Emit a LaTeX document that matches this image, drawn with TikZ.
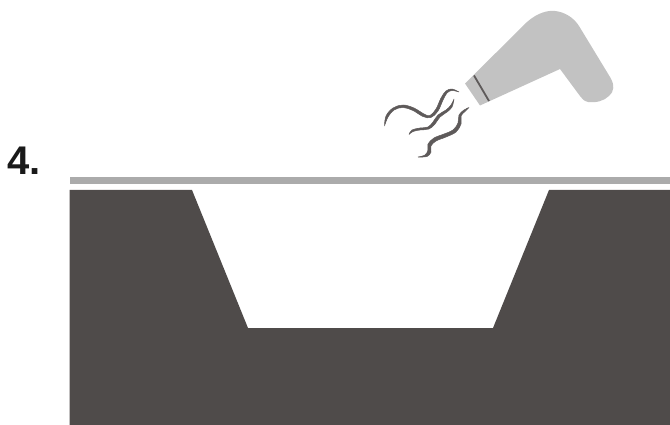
\documentclass[tikz,border=0pt]{standalone}
\usepackage{fontspec}
\setmainfont{Liberation Sans}
\definecolor{darkfill}{HTML}{4F4B4A}
\definecolor{barfill}{HTML}{ABABAB}
\definecolor{dryer}{HTML}{C2C2C2}
\definecolor{wisp}{HTML}{5E5A5A}
\tikzset{wispshape/.style={fill=wisp,draw=wisp,line width=0.5pt,line join=round}}
\begin{document}
\begin{tikzpicture}[x=1pt,y=-1pt]
\useasboundingbox (0,0) rectangle (670,425);
\fill[darkfill] (69.5,190) -- (192,190) -- (248,328) -- (493,328) -- (549,190) -- (670,190) -- (670,425) -- (69.5,425) -- cycle;
\fill[barfill] (70,177) rectangle (670,184);
\node[anchor=base west,inner sep=0pt,font=\fontsize{40}{40}\selectfont\bfseries,text=black!90] (num) at (7,175) {4.};
% dryer
\fill[dryer] (465,83.5) -- (527,22)
  .. controls (537,13) and (548,10) .. (555,11)
  .. controls (565,12) and (574,18) .. (579,26)
  -- (610,77)
  .. controls (615,85) and (614,92) .. (609,96)
  .. controls (604,101) and (596,103) .. (588,102)
  .. controls (584,101) and (582,99) .. (580,96)
  -- (560,69) -- (480,105.5) -- cycle;
\draw[wisp,line width=1.8pt] (474,75.5) -- (489,101);
% wisps
\path[wispshape] plot[smooth,tension=0.6] coordinates {(384.5,126) (386,116) (393,108) (403,105) (414,108) (424,114) (430,115.5) (436,109) (441,98) (446,91) (452,89) (459,92)}
 -- plot[smooth,tension=0.6] coordinates {(459,92) (452,90.5) (447,93) (443,100) (438,111) (431,117.5) (423,116.5) (413,110.5) (403,107.5) (394,110) (388,117) (384.5,126)} -- cycle;
\path[wispshape] plot[smooth,tension=0.6] coordinates {(409,134.5) (412,130) (420,128) (428,127) (433,122) (438,115) (446,110) (451,105) (454,99)}
 -- plot[smooth,tension=0.6] coordinates {(454,99) (452,107) (447,112) (440,117) (435,124) (429,129) (420,130) (413,131.5) (409,134.5)} -- cycle;
\path[wispshape] plot[smooth,tension=0.6] coordinates {(418,157) (425,155) (428,150) (428,144) (434,138) (444,134) (453,130) (458,123) (459,115) (464,110) (469,107.5)}
 -- plot[smooth,tension=0.6] coordinates {(469,107.5) (465,111.5) (461,116) (461,124) (456,132) (446,137) (436,141) (431,146) (431,152) (427,156.5) (418,157)} -- cycle;
\end{tikzpicture}
\end{document}
